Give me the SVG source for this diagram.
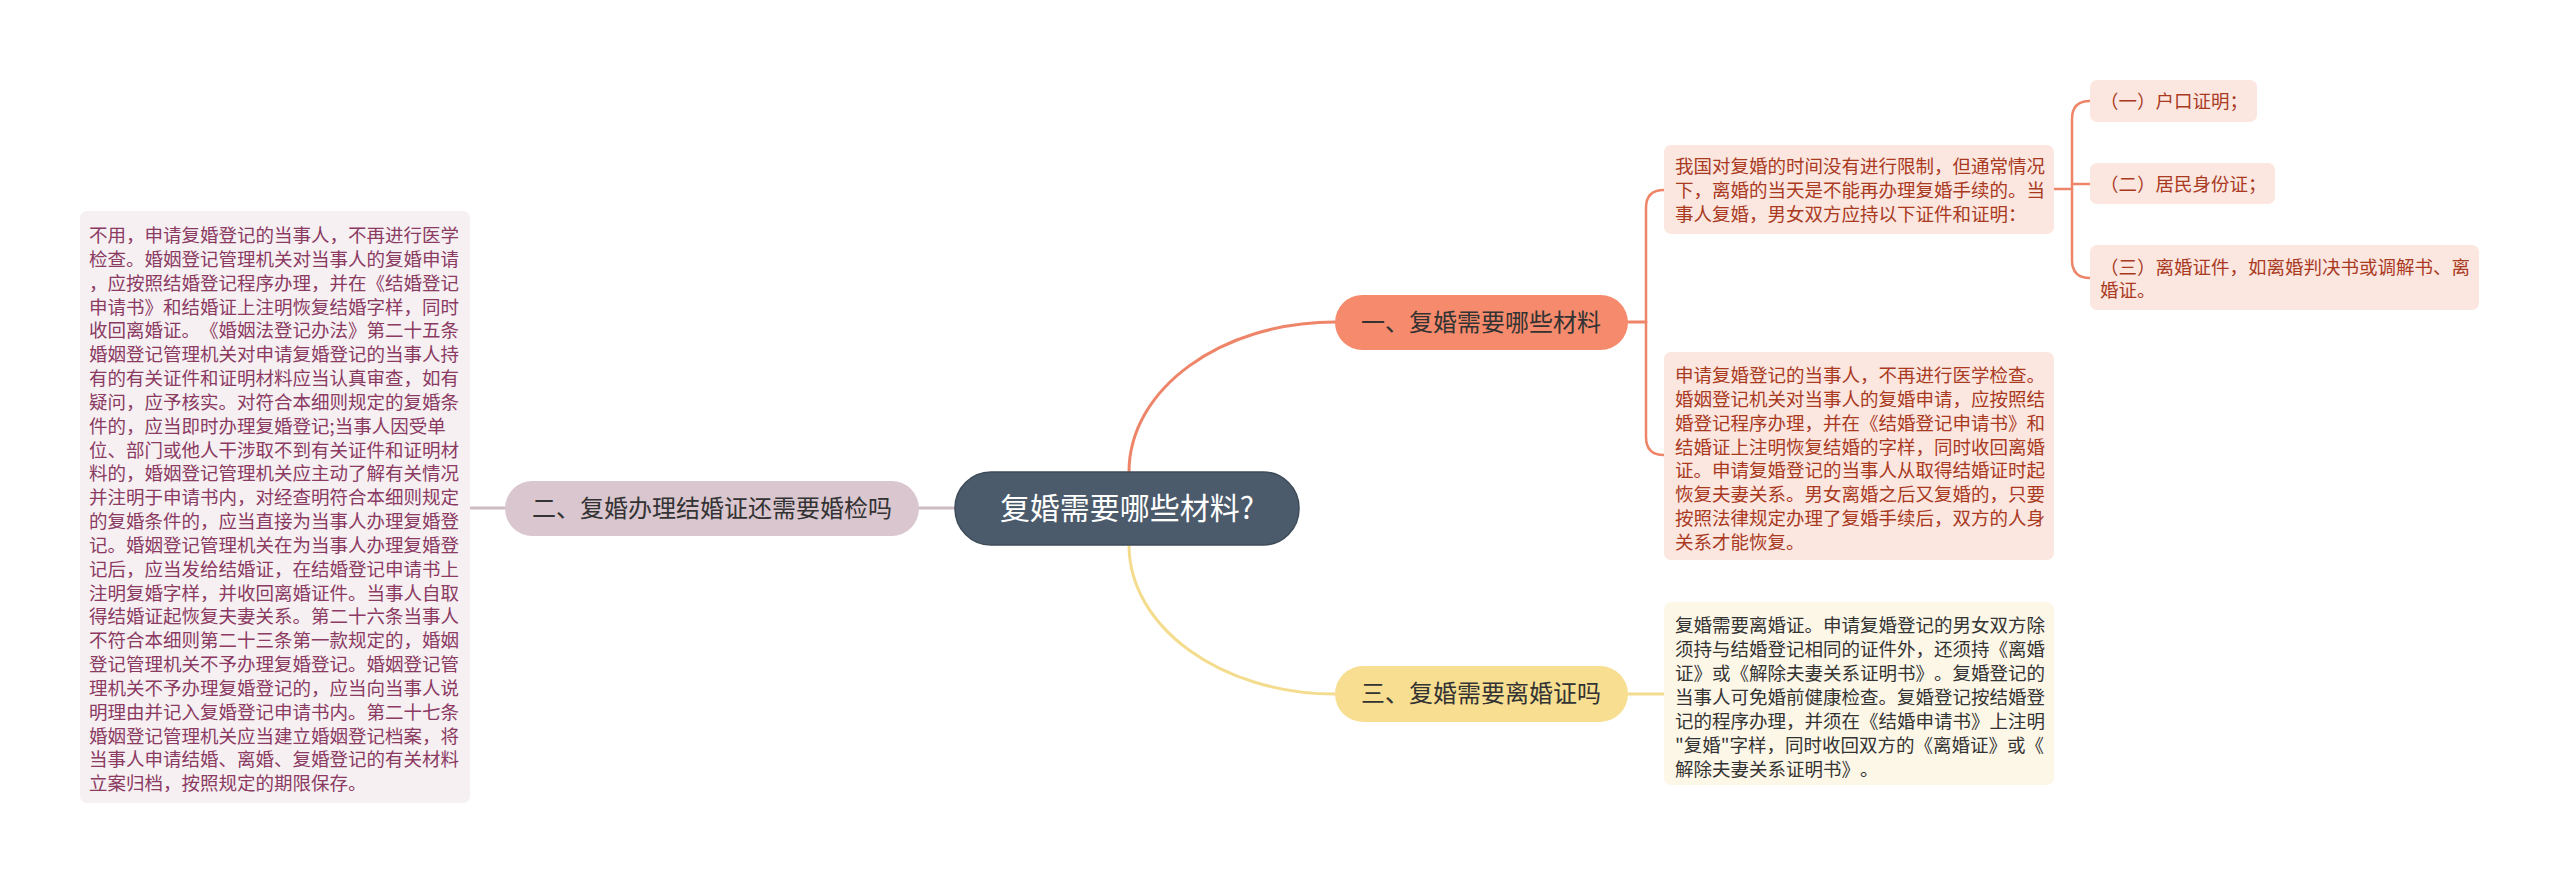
<svg xmlns="http://www.w3.org/2000/svg" width="2560" height="885" viewBox="0 0 2560 885">
<style>
text{text-spacing-trim:space-all}
.t{font-family:"Noto Sans CJK SC","Noto Sans",sans-serif;font-size:18.5px}
.b{font-family:"Noto Sans CJK SC","Noto Sans",sans-serif;font-size:24px;fill:#333}
.c{font-family:"Noto Sans CJK SC","Noto Sans",sans-serif;font-size:30px;fill:#fff}
.or{fill:#A93A1F}
.mv{fill:#8B3A62}
.dk{fill:#333}
.ln{fill:none;stroke-linecap:round}
</style>
<rect width="2560" height="885" fill="#fff"/>
<g id="connectors">
<path class="ln" d="M1129,472 C1129,389 1221,322 1335,322" stroke="#EE8468" stroke-width="3"/>
<path class="ln" d="M1129,545 C1129,627 1221,694 1335,694" stroke="#F4DC8E" stroke-width="3"/>
<path class="ln" d="M919,508 L955,508" stroke="#CFBDC6" stroke-width="3"/>
<path class="ln" d="M470,508 L505,508" stroke="#CFBDC6" stroke-width="3"/>
<path class="ln" d="M1628,322 L1646,322" stroke="#EE8468" stroke-width="3"/>
<path class="ln" d="M1664,190 Q1646,190 1646,208 L1646,437 Q1646,455 1664,455" stroke="#EE8468" stroke-width="2.5"/>
<path class="ln" d="M1628,694 L1664,694" stroke="#F4DC8E" stroke-width="3"/>
<path class="ln" d="M2054,189 L2072,189" stroke="#EE8468" stroke-width="2.5"/>
<path class="ln" d="M2090,101 Q2072,101 2072,119 L2072,260 Q2072,278 2090,278" stroke="#EE8468" stroke-width="2.5"/>
<path class="ln" d="M2072,184 L2090,184" stroke="#EE8468" stroke-width="2.5"/>
</g>
<g id="root">
<rect x="955" y="472" width="344" height="73" rx="36" fill="#4B5B6B" stroke="#3E4C5A" stroke-width="1.5"/>
<text class="c" x="1127" y="519" text-anchor="middle">复婚需要哪些材料?</text>
</g>
<g id="branch1">
<rect x="1335" y="295" width="293" height="55" rx="27.5" fill="#F58A6C"/>
<text class="b" x="1481" y="331" text-anchor="middle">一、复婚需要哪些材料</text>
</g>
<g id="branch2">
<rect x="505" y="481" width="414" height="55" rx="27.5" fill="#D9C6CF"/>
<text class="b" x="712" y="517" text-anchor="middle">二、复婚办理结婚证还需要婚检吗</text>
</g>
<g id="branch3">
<rect x="1335" y="666" width="293" height="56" rx="28" fill="#F7DE90"/>
<text class="b" x="1481" y="702" text-anchor="middle">三、复婚需要离婚证吗</text>
</g>
<g id="note-left">
<rect x="80" y="211" width="390" height="592" rx="7" fill="#F6F0F3"/>
<text class="t mv">
<tspan x="89" y="242">不用，申请复婚登记的当事人，不再进行医学</tspan>
<tspan x="89" y="265.8">检查。婚姻登记管理机关对当事人的复婚申请</tspan>
<tspan x="89" y="289.7">，应按照结婚登记程序办理，并在《结婚登记</tspan>
<tspan x="89" y="313.5">申请书》和结婚证上注明恢复结婚字样，同时</tspan>
<tspan x="89" y="337.3">收回离婚证。《婚姻法登记办法》第二十五条</tspan>
<tspan x="89" y="361.2">婚姻登记管理机关对申请复婚登记的当事人持</tspan>
<tspan x="89" y="385">有的有关证件和证明材料应当认真审查，如有</tspan>
<tspan x="89" y="408.8">疑问，应予核实。对符合本细则规定的复婚条</tspan>
<tspan x="89" y="432.6">件的，应当即时办理复婚登记;当事人因受单</tspan>
<tspan x="89" y="456.5">位、部门或他人干涉取不到有关证件和证明材</tspan>
<tspan x="89" y="480.3">料的，婚姻登记管理机关应主动了解有关情况</tspan>
<tspan x="89" y="504.1">并注明于申请书内，对经查明符合本细则规定</tspan>
<tspan x="89" y="528">的复婚条件的，应当直接为当事人办理复婚登</tspan>
<tspan x="89" y="551.8">记。婚姻登记管理机关在为当事人办理复婚登</tspan>
<tspan x="89" y="575.6">记后，应当发给结婚证，在结婚登记申请书上</tspan>
<tspan x="89" y="599.5">注明复婚字样，并收回离婚证件。当事人自取</tspan>
<tspan x="89" y="623.3">得结婚证起恢复夫妻关系。第二十六条当事人</tspan>
<tspan x="89" y="647.1">不符合本细则第二十三条第一款规定的，婚姻</tspan>
<tspan x="89" y="671">登记管理机关不予办理复婚登记。婚姻登记管</tspan>
<tspan x="89" y="694.8">理机关不予办理复婚登记的，应当向当事人说</tspan>
<tspan x="89" y="718.6">明理由并记入复婚登记申请书内。第二十七条</tspan>
<tspan x="89" y="742.5">婚姻登记管理机关应当建立婚姻登记档案，将</tspan>
<tspan x="89" y="766.3">当事人申请结婚、离婚、复婚登记的有关材料</tspan>
<tspan x="89" y="790.1">立案归档，按照规定的期限保存。</tspan>
</text>
</g>
<g id="note-1a">
<rect x="1664" y="145" width="390" height="89" rx="7" fill="#FCE6E0"/>
<text class="t or">
<tspan x="1675" y="173">我国对复婚的时间没有进行限制，但通常情况</tspan>
<tspan x="1675" y="197">下，离婚的当天是不能再办理复婚手续的。当</tspan>
<tspan x="1675" y="221">事人复婚，男女双方应持以下证件和证明：</tspan>
</text>
</g>
<g id="note-1b">
<rect x="1664" y="352" width="390" height="208" rx="7" fill="#FCE6E0"/>
<text class="t or">
<tspan x="1675" y="382">申请复婚登记的当事人，不再进行医学检查。</tspan>
<tspan x="1675" y="405.9">婚姻登记机关对当事人的复婚申请，应按照结</tspan>
<tspan x="1675" y="429.7">婚登记程序办理，并在《结婚登记申请书》和</tspan>
<tspan x="1675" y="453.6">结婚证上注明恢复结婚的字样，同时收回离婚</tspan>
<tspan x="1675" y="477.4">证。申请复婚登记的当事人从取得结婚证时起</tspan>
<tspan x="1675" y="501.3">恢复夫妻关系。男女离婚之后又复婚的，只要</tspan>
<tspan x="1675" y="525.1">按照法律规定办理了复婚手续后，双方的人身</tspan>
<tspan x="1675" y="549">关系才能恢复。</tspan>
</text>
</g>
<g id="note-3">
<rect x="1664" y="602" width="390" height="183" rx="7" fill="#FDF7E8"/>
<text class="t dk">
<tspan x="1675" y="632">复婚需要离婚证。申请复婚登记的男女双方除</tspan>
<tspan x="1675" y="656">须持与结婚登记相同的证件外，还须持《离婚</tspan>
<tspan x="1675" y="680">证》或《解除夫妻关系证明书》。复婚登记的</tspan>
<tspan x="1675" y="704">当事人可免婚前健康检查。复婚登记按结婚登</tspan>
<tspan x="1675" y="728">记的程序办理，并须在《结婚申请书》上注明</tspan>
<tspan x="1675" y="752">"复婚"字样，同时收回双方的《离婚证》或《</tspan>
<tspan x="1675" y="776">解除夫妻关系证明书》。</tspan>
</text>
</g>
<g id="sub-1">
<rect x="2090" y="80" width="167" height="42" rx="7" fill="#FCE6E0"/>
<text class="t or" x="2100" y="108">（一）户口证明；</text>
</g>
<g id="sub-2">
<rect x="2090" y="163" width="185" height="41" rx="7" fill="#FCE6E0"/>
<text class="t or" x="2100" y="191">（二）居民身份证；</text>
</g>
<g id="sub-3">
<rect x="2090" y="245" width="389" height="65" rx="7" fill="#FCE6E0"/>
<text class="t or">
<tspan x="2100" y="274">（三）离婚证件，如离婚判决书或调解书、离</tspan>
<tspan x="2100" y="297">婚证。</tspan>
</text>
</g>
</svg>
